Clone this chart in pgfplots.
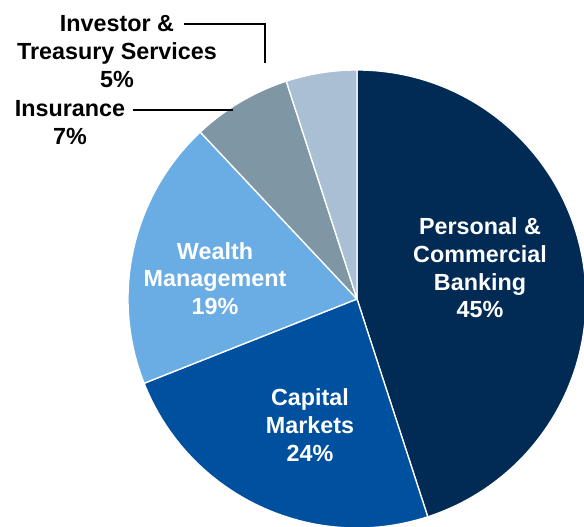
\documentclass[border=0pt]{standalone}
\usepackage{fontspec}
\setmainfont{Liberation Sans}
\usepackage{pgfplots}
\pgfplotsset{compat=1.18}
\definecolor{pcb}{HTML}{012A55}
\definecolor{cm}{HTML}{0050A0}
\definecolor{wm}{HTML}{6AACE4}
\definecolor{ins}{HTML}{7F96A4}
\definecolor{its}{HTML}{AABFD3}
\newcommand\lbl{\fontsize{17.5}{20.8}\selectfont\bfseries}
\begin{document}
\begin{tikzpicture}
\begin{axis}[x=0.75pt,y=0.75pt,xmin=0,xmax=584,ymin=0,ymax=527,
  hide axis,scale only axis,clip=false,at={(0,0)},anchor=south west]
\xdef\cum{0}
\foreach \v/\c in {45/pcb,24/cm,19/wm,7/ins,5/its}{
  \pgfmathsetmacro\a{90-3.6*\cum}
  \pgfmathsetmacro\b{90-3.6*(\cum+\v)}
  \edef\temp{\noexpand\filldraw[fill=\c,draw=white,line width=1pt,line join=round]
    (axis cs:357,228) -- ++(\a:171.75pt) arc[start angle=\a,end angle=\b,radius=171.75pt] -- cycle;}
  \temp
  \pgfmathsetmacro\n{\cum+\v}
  \xdef\cum{\n}
}
\draw[black,line width=1.1pt] (axis cs:184,503) -- (axis cs:265,503) -- (axis cs:265,464);
\draw[black,line width=1.1pt] (axis cs:133,417) -- (axis cs:233,417);
\node[align=center,white,font=\lbl,inner sep=0pt] at (axis cs:480,259) {Personal \&\\Commercial\\Banking\\45\%};
\node[align=center,white,font=\lbl,inner sep=0pt] at (axis cs:215,248.6) {Wealth\\Management\\19\%};
\node[align=center,white,font=\lbl,inner sep=0pt] at (axis cs:310,102) {Capital\\Markets\\24\%};
\node[align=center,black,font=\lbl,inner sep=0pt] at (axis cs:117,475.5) {Investor \&\\Treasury Services\\5\%};
\node[align=center,black,font=\lbl,inner sep=0pt] at (axis cs:70,404.5) {Insurance\\7\%};
\end{axis}
\pgfresetboundingbox
\useasboundingbox (0,0) rectangle (438pt,395.25pt);
\end{tikzpicture}
\end{document}
